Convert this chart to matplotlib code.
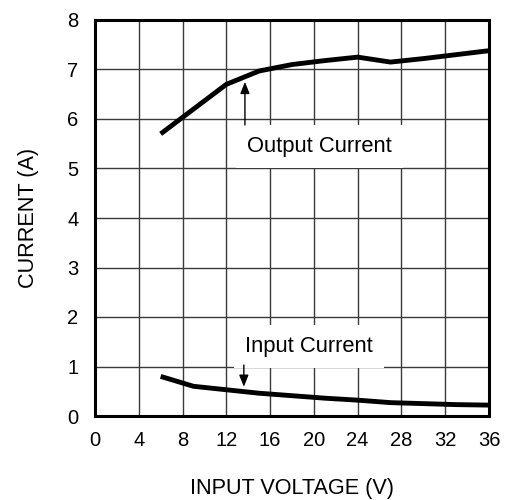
import matplotlib
matplotlib.use("Agg")
import matplotlib.pyplot as plt

plt.rcParams['font.family'] = ['Liberation Sans', 'DejaVu Sans']

voltage = [6, 9, 12, 15, 18, 21, 24, 27, 30, 33, 36]
output_current = [5.7, 6.2, 6.7, 6.97, 7.1, 7.18, 7.25, 7.15, 7.22, 7.3, 7.38]
input_current = [0.8, 0.6, 0.53, 0.46, 0.41, 0.36, 0.32, 0.27, 0.25, 0.23, 0.22]
xticks = [0, 4, 8, 12, 16, 20, 24, 28, 32, 36]
yticks = [0, 1, 2, 3, 4, 5, 6, 7, 8]

fig = plt.figure(figsize=(5.08, 5.0), dpi=100)
ax = fig.add_axes([95/508, 84/500, 394/508, 396/500])

ax.set_xlim(0, 36)
ax.set_ylim(0, 8)
ax.set_xticks(xticks)
ax.set_yticks(yticks)
ax.tick_params(length=0, labelsize=14.5)
ax.tick_params(axis='x', pad=11)
ax.tick_params(axis='y', pad=12)
ax.grid(True, color='#3a3a3a', linewidth=1.0)
ax.set_axisbelow(True)
for s in ax.spines.values():
    s.set_linewidth(2.2)
    s.set_color('black')

ax.plot(voltage, output_current, color='black', linewidth=3.5, solid_capstyle='butt', zorder=3)
ax.plot(voltage, input_current, color='black', linewidth=3.5, solid_capstyle='butt', zorder=3)

box = dict(boxstyle='square,pad=0.5', facecolor='white', edgecolor='none')
ax.text(20.53, 5.34, 'Output Current', fontsize=15.8, ha='center', va='baseline', bbox=box, zorder=4)
ax.text(19.57, 1.30, 'Input Current', fontsize=15.8, ha='center', va='baseline', bbox=box, zorder=4)

arrow = dict(arrowstyle='-|>,head_length=0.7,head_width=0.28', color='black', lw=1.0, shrinkA=0, shrinkB=0)
ax.annotate('', xy=(13.7, 6.75), xytext=(13.7, 5.88), arrowprops=arrow, zorder=5)
ax.annotate('', xy=(13.6, 0.59), xytext=(13.6, 1.03), arrowprops=arrow, zorder=5)

ax.set_xlabel('INPUT VOLTAGE (V)', fontsize=15.6, labelpad=20)
ax.set_ylabel('CURRENT (A)', fontsize=15.6, labelpad=20)

fig.savefig('out.png', dpi=100)
